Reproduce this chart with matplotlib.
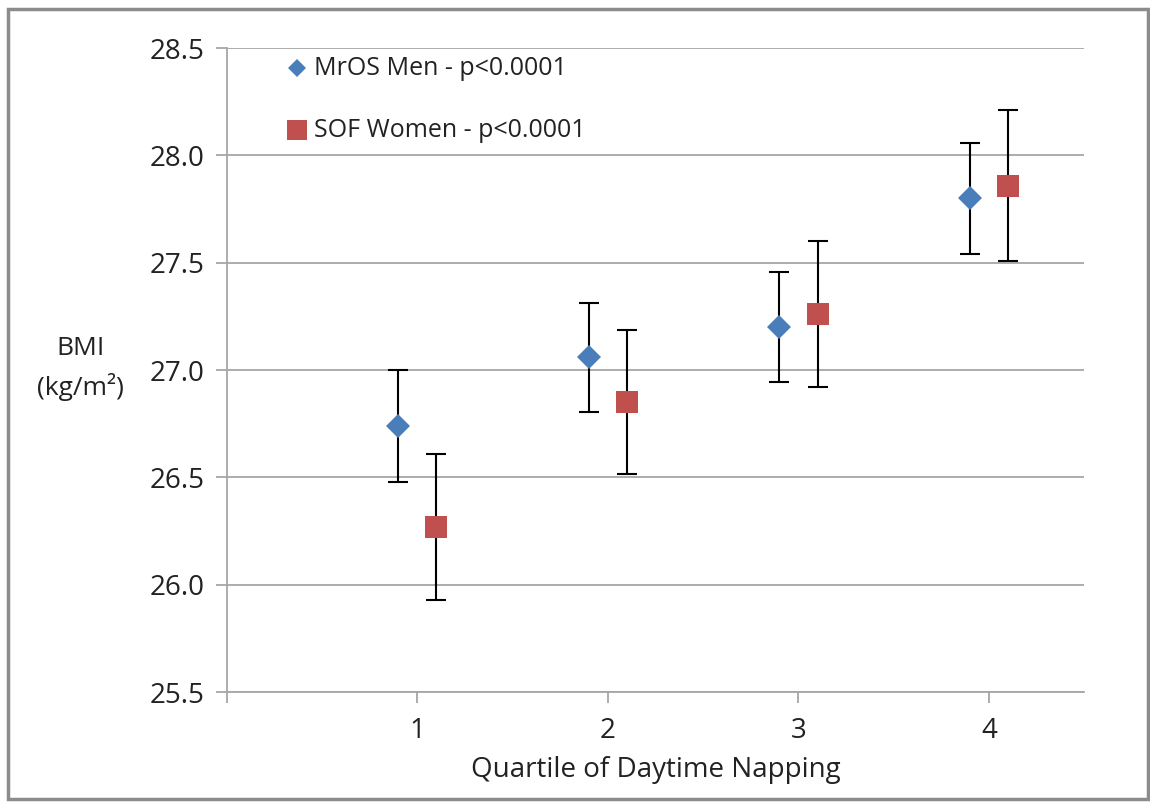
# %% Libraries
import matplotlib
matplotlib.use("Agg")
from matplotlib import pyplot as plt
from matplotlib.patches import Rectangle

# %% Data: mean BMI with error bars by napping quartile
quartiles = [1, 2, 3, 4]
men_x = [0.9, 1.9, 2.9, 3.9]
men_bmi = [26.74, 27.06, 27.20, 27.80]
men_err = [0.26, 0.255, 0.255, 0.26]
women_x = [1.1, 2.1, 3.1, 4.1]
women_bmi = [26.27, 26.85, 27.26, 27.86]
women_err = [0.34, 0.335, 0.34, 0.35]
y_ticks = [25.5, 26.0, 26.5, 27.0, 27.5, 28.0, 28.5]

men_label = "MrOS Men - p<0.0001"
women_label = "SOF Women - p<0.0001"

plt.rcParams['font.family'] = ['Open Sans', 'DejaVu Sans']

# %% Figure
fig = plt.figure(figsize=(11.5, 8.02), dpi=100)
ax = fig.add_axes([0.197, 0.137, 0.746, 0.803])

grid_col = '#a6a6a6'
text_col = '#222222'
ax.set_xlim(0, 4.5)
ax.set_ylim(25.5, 28.5)
ax.set_yticks(y_ticks)
ax.set_yticklabels([f"{v:.1f}" for v in y_ticks])
ax.set_xticks([0] + quartiles)
ax.set_xticklabels([""] + [str(q) for q in quartiles])
ax.yaxis.grid(True, color=grid_col, linewidth=1.3)
ax.set_axisbelow(True)
for side in ['top', 'right']:
    ax.spines[side].set_visible(False)
for side in ['left', 'bottom']:
    ax.spines[side].set_color(grid_col)
    ax.spines[side].set_linewidth(1.3)
ax.tick_params(axis='both', colors=grid_col, length=8, width=1.3,
               labelsize=20, labelcolor=text_col)
ax.tick_params(axis='y', pad=8)
ax.tick_params(axis='x', pad=10)

# error bars first, markers on top
ax.errorbar(men_x, men_bmi, yerr=men_err, fmt='none', ecolor='black',
            elinewidth=1.5, capsize=7.5, capthick=1.5, zorder=3)
ax.errorbar(women_x, women_bmi, yerr=women_err, fmt='none', ecolor='black',
            elinewidth=1.5, capsize=7.5, capthick=1.5, zorder=3)
ax.plot(men_x, men_bmi, 'D', color='#4a7ebb', markersize=12.5,
        markeredgewidth=0, zorder=4)
ax.plot(women_x, women_bmi, 's', color='#c0504d', markersize=16,
        markeredgewidth=0, zorder=4)

# %% Legend built as text so it sits like the Excel one
ax.plot([0.37], [28.407], 'D', color='#4a7ebb', markersize=9,
        markeredgewidth=0, clip_on=False)
ax.text(0.46, 28.407, men_label, fontsize=18, va='center', color=text_col)
ax.plot([0.37], [28.118], 's', color='#c0504d', markersize=15,
        markeredgewidth=0, clip_on=False)
ax.text(0.46, 28.118, women_label, fontsize=18, va='center', color=text_col)

ax.set_xlabel("Quartile of Daytime Napping", fontsize=20, color=text_col,
              labelpad=8)
fig.text(0.070, 0.566, "BMI", fontsize=19, ha='center', va='center',
         color=text_col)
fig.text(0.070, 0.518, "(kg/m\u00b2)", fontsize=19, ha='center',
         va='center', color=text_col)

# outer chart frame
fig.patches.append(Rectangle((0.007, 0.004), 0.991, 0.985,
                             transform=fig.transFigure, fill=False,
                             edgecolor='#8c8c8c', linewidth=2.5))

fig.savefig("out.png", dpi=100)
